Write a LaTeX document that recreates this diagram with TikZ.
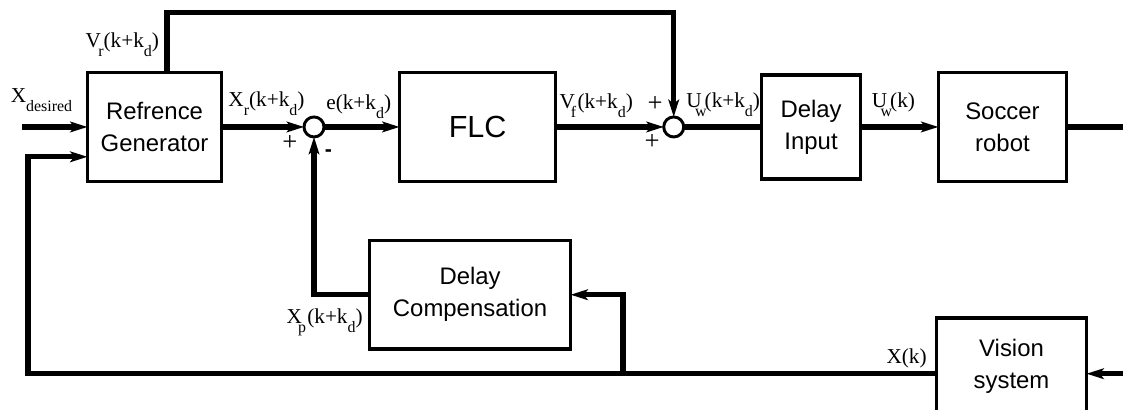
\documentclass[tikz,border=0pt]{standalone}
\usepackage{fontspec}
\setmainfont{Liberation Serif}
\setsansfont{Liberation Sans}
\usepackage{tikz}
\usetikzlibrary{arrows.meta, positioning, calc}

% lowered index as printed in the labels
\newcommand{\lo}[1]{\raisebox{-6.5pt}{\fontsize{12}{12}\selectfont #1}}

\begin{document}
\begin{tikzpicture}[
    blk/.style={draw, line width=2.6pt, outer sep=0pt, minimum width=#1, minimum height=2.88cm, align=center, font=\sffamily\fontsize{18}{24}\selectfont},
    sumnode/.style={draw, circle, line width=2.2pt, outer sep=0pt, minimum size=0.53cm, inner sep=0pt},
    lbl/.style={inner sep=1pt, font=\fontsize{16}{18}\selectfont},
    sgn/.style={inner sep=0pt, font=\fontsize{20}{22}\selectfont},
    arr/.style={-{Stealth[length=13pt, width=8pt, inset=3pt]}, line width=4pt},
    wire/.style={line width=4pt},
]

% Page size
\useasboundingbox (-4.09,-7.49) rectangle (25.63,3.36);

% Forward chain
\node[blk=3.55cm] (gen) {Refrence\\Generator};
\node[sumnode, right=2.18cm of gen] (sum1) {};
\node[blk=4.13cm, right=2.00cm of sum1, font=\sffamily\fontsize{23}{27}\selectfont] (flc) {FLC};
\node[sumnode, right=2.86cm of flc] (sum2) {};
\node[blk=2.62cm, minimum height=2.75cm, right=2.06cm of sum2] (delay) {Delay\\Input};
\node[blk=3.39cm, right=2.06cm of delay] (robot) {Soccer\\robot};

% Lower blocks
\node[blk=5.32cm, below=1.56cm of flc, xshift=-0.20cm] (comp) {Delay\\Compensation};
\node[blk=3.97cm, minimum height=2.94cm, text depth=0.5cm, below=3.62cm of robot, xshift=0.24cm] (vision) {Vision\\system};

% Reference input
\coordinate[left=1.73cm of gen.west] (xin);
\draw[arr] (xin) -- (gen.west);
\node[lbl, anchor=south west] (xdes) at ($(xin)+(-0.34,0.36)$) {X\lo{desired}};

% Main path
\draw[arr] (gen.east) -- (sum1.west);
\node[lbl, anchor=south west] (xrlab) at ($(gen.east)+(0.14,0.27)$) {X\lo{r}(k+k\lo{d})};
\draw[arr] (sum1.east) -- (flc.west);
\node[lbl, anchor=south west] (elab) at ($(sum1.east)+(0.02,0.18)$) {e(k+k\lo{d})};
\draw[arr] (flc.east) -- (sum2.west);
\node[lbl, anchor=south west] (vflab) at ($(flc.east)+(0.06,0.21)$) {V\kern-3pt\lo{f}\kern1pt(k+k\lo{d})};
\draw[wire] (sum2.east) -- (delay.west);
\node[lbl, anchor=south west] (uwlab) at ($(sum2.east)+(0.03,0.24)$) {U\kern-5pt\lo{w}\kern-1.5pt(k+k\lo{d})};
\draw[arr] (delay.east) -- (robot.west);
\node[lbl, anchor=south west] (uklab) at ($(delay.east)+(0.26,0.24)$) {U\kern-5pt\lo{w}\kern-1.5pt(k)};
\coordinate[right=1.5cm of robot.east] (yout);
\draw[wire] (robot.east) -- (yout);

% Feedforward over the top
\coordinate (vout) at ($(gen.north)+(0.33,0)$);
\coordinate[above=1.59cm of vout] (vtop);
\draw[arr] (vout) -- (vtop) -| (sum2.north);
\node[lbl, anchor=south east] (vrlab) at ($(vout)+(-0.17,0.38)$) {V\kern-2pt\lo{r}(k+k\lo{d})};

% Signs
\node[sgn] (s1a) at ($(sum1)+(-0.64,-0.42)$) {+};
\node[sgn, font=\sffamily\bfseries\fontsize{16}{18}\selectfont] (s1b) at ($(sum1)+(0.38,-0.69)$) {-};
\node[sgn] (s2a) at ($(sum2)+(-0.49,0.61)$) {+};
\node[sgn] (s2b) at ($(sum2)+(-0.57,-0.40)$) {+};

% Measurement feedback
\coordinate[right=1.2cm of vision.east] (visin);
\draw[arr] (visin) -- (vision.east);
\node[lbl, anchor=south east] (xklab) at ($(vision.west)+(-0.22,0.12)$) {X(k)};
\coordinate (fbin) at ($(gen.west)+(0,-0.79)$);
\coordinate[left=1.57cm of fbin] (fbcorner);
\draw[arr] (vision.west) -| (fbcorner) -- (fbin);

% Delay compensation loop
\coordinate[right=1.39cm of comp.east] (tap);
\draw[arr] (tap |- vision.west) -- (tap) -- (comp.east);
\draw[arr] (comp.west) -| (sum1.south);
\node[lbl, anchor=north east] (xplab) at ($(comp.west)+(-0.14,-0.34)$) {X\kern-3pt\lo{p}\kern1pt(k+k\lo{d})};

\end{tikzpicture}
\end{document}
